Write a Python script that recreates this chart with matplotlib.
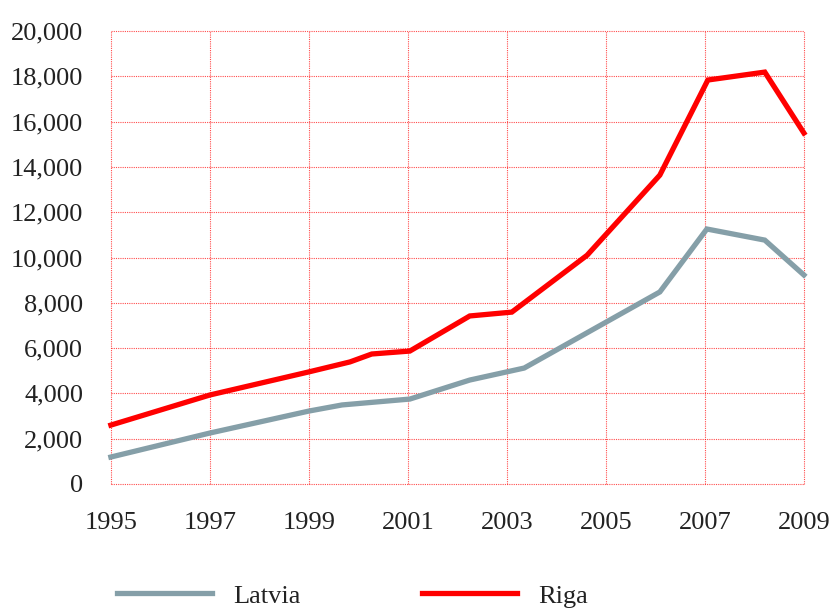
import matplotlib
matplotlib.use("Agg")
import matplotlib.pyplot as plt

# data (fractional years where the line bends between ticks)
riga_years = [1995, 1997, 1999, 1999.83, 2000.27, 2001.04, 2002.25, 2003.1,
              2004.62, 2006.09, 2007.06, 2008.21, 2009]
riga_values = [2600, 3930, 4950, 5390, 5740, 5870, 7420, 7590,
               10100, 13640, 17840, 18190, 15500]

latvia_years = [1995, 1997, 1999, 1999.67, 2001.04, 2002.25, 2003.35,
                2006.09, 2007.04, 2008.21, 2009]
latvia_values = [1190, 2250, 3220, 3490, 3750, 4590, 5120,
                 8480, 11260, 10770, 9230]

x_ticks = [1995, 1997, 1999, 2001, 2003, 2005, 2007, 2009]
y_ticks = list(range(0, 20001, 2000))

plt.rcParams['font.family'] = ['Liberation Serif', 'DejaVu Serif']

fig = plt.figure(figsize=(8.4, 6.1), dpi=100)
ax = fig.add_axes([0.132, 0.2066, 0.825, 0.7424])

gray = '#859fa8'
red = '#ff0000'
ax.plot(latvia_years, latvia_values, color=gray, lw=3.8, label='Latvia',
        solid_joinstyle='miter', clip_on=False, zorder=3)
ax.plot(riga_years, riga_values, color=red, lw=3.8, label='Riga',
        solid_joinstyle='miter', clip_on=False, zorder=3)

ax.set_xlim(1995, 2009)
ax.set_ylim(0, 20000)
ax.set_xticks(x_ticks)
ax.set_yticks(y_ticks)
ax.set_yticklabels([f'{v:,}' for v in y_ticks])
ax.grid(True, color=red, alpha=0.7, linestyle=(0, (1, 1)), lw=0.8)
for gl in ax.get_xgridlines() + ax.get_ygridlines():
    gl.set_clip_on(False)
for s in ax.spines.values():
    s.set_visible(False)
ax.tick_params(length=0, labelsize=19, colors='#222222')
ax.tick_params(axis='y', pad=20)
ax.tick_params(axis='x', pad=20)

fig.legend(loc='center left', bbox_to_anchor=(0.111, 0.023), ncol=2,
           frameon=False, fontsize=19, handlelength=3.6, handletextpad=0.8,
           columnspacing=4.6, labelcolor='#222222')

fig.savefig('out.png', dpi=100)
